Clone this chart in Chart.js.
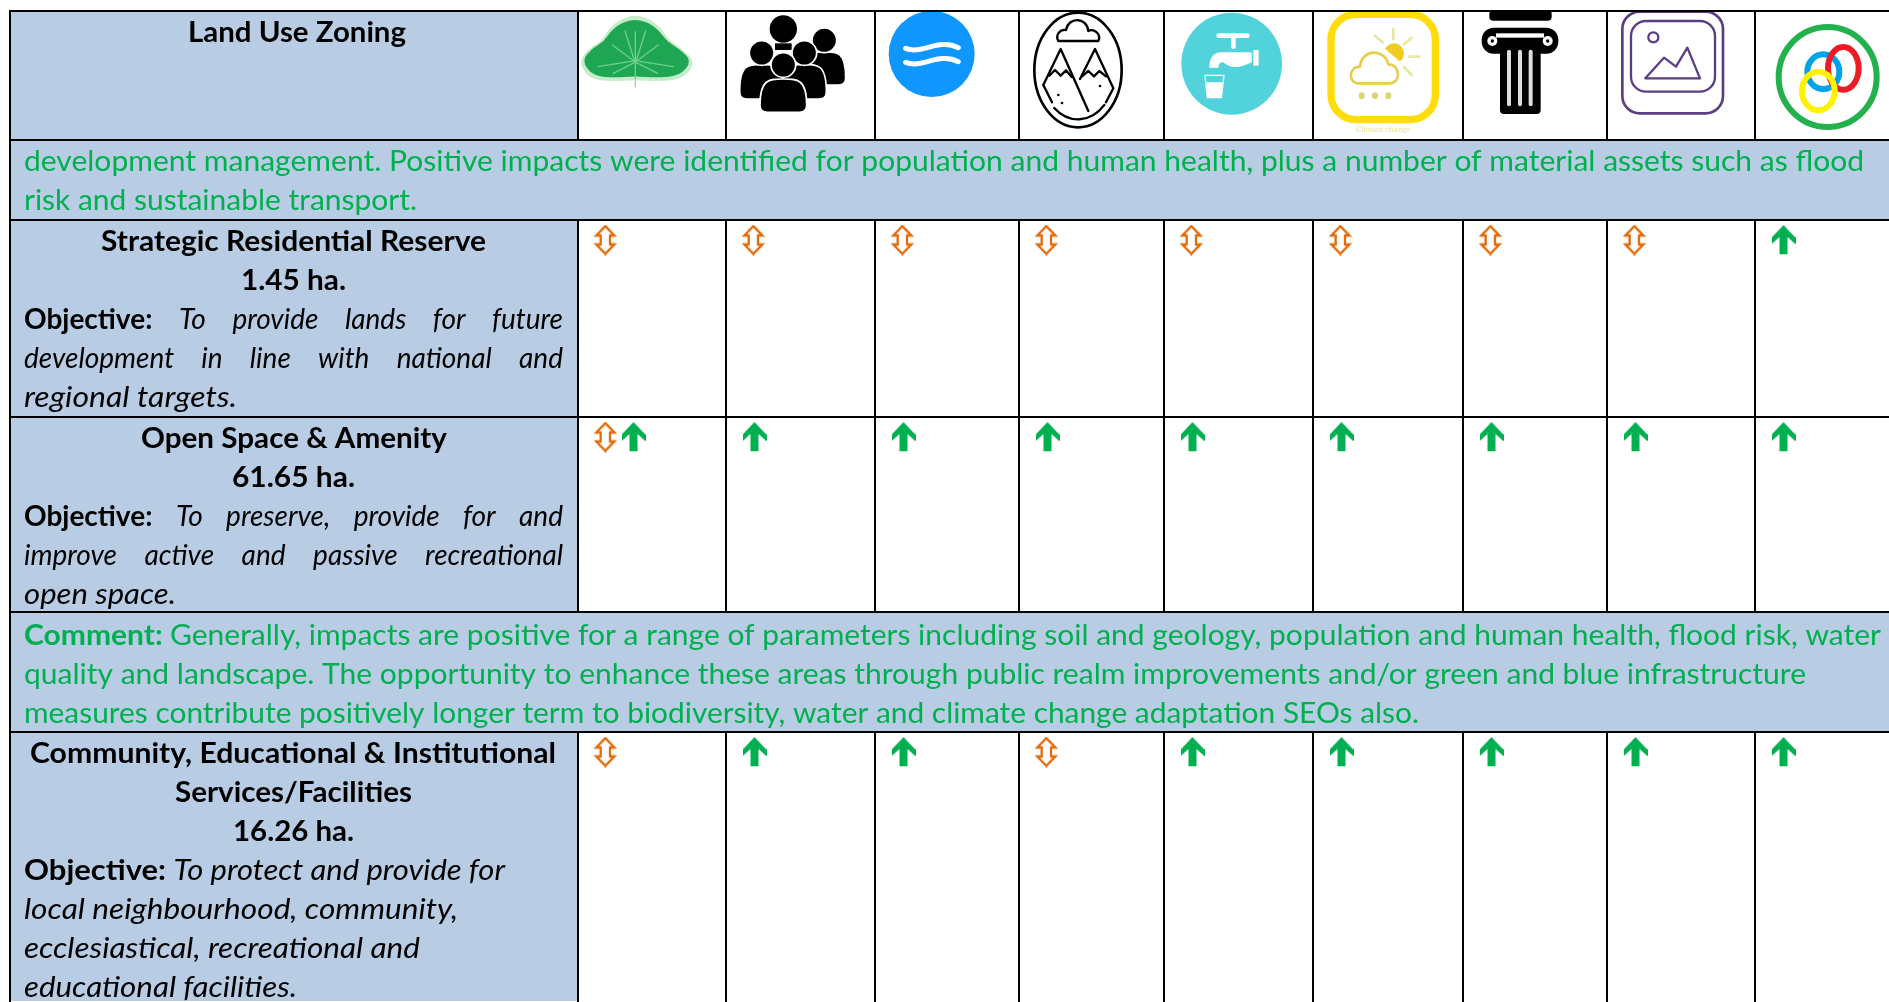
<!DOCTYPE html>
<html>
<head>
<meta charset="utf-8">
<title>Land Use Zoning</title>
<script src="https://cdn.jsdelivr.net/npm/chart.js@4"></script>
<style>
  html, body { margin: 0; padding: 0; background: #fff; }
  canvas { display: block; }
</style>
</head>
<body>
<canvas id="myChart" width="1889" height="1002"></canvas>
<script>
// categories
const parameters = ["Biodiversity", "Population & Human Health", "Water", "Soil & Geology", "Water Services",
  "Climate Change", "Cultural Heritage", "Landscape", "Interrelationships"];
const zones = ["Strategic Residential Reserve", "Open Space & Amenity", "Community, Educational & Institutional Services/Facilities"];

// series values, one rating per parameter
const residentialRatings = ["neutral", "neutral", "neutral", "neutral", "neutral", "neutral", "neutral", "neutral", "positive"];
const openSpaceRatings = ["mixed", "positive", "positive", "positive", "positive", "positive", "positive", "positive", "positive"];
const communityRatings = ["neutral", "positive", "positive", "neutral", "positive", "positive", "positive", "positive", "positive"];

// table layout, same units as the page
const columnEdges = [10, 578, 726, 875, 1019, 1164, 1313, 1463, 1607, 1755];
const rowEdges = [11, 140, 220, 417, 612, 732];
const rowBaselines = [31, 31, 31, 31, 33, 31];
const zoneRows = [2, 3, 5];
const blueRows = [0, 2, 3, 5];
const commentRows = [1, 4];

const BLUE = "#B8CCE4";
const GREEN = "#00B050";
const ORANGE = "#E36C0A";
const FONT_SIZE = 28;
const LINE_PITCH = 39;

const B = "bold", I = "italic", R = "normal";

// row, line number in the row, runs, left and right end of the line
const tableLines = [
  [0, 0, [[B, "Land Use Zoning"]], 188, 406],
  [1, 0, [[R, "development management. Positive impacts were identified for population and human health, plus a number of material assets such as flood"]], 24, 1864, GREEN],
  [1, 1, [[R, "risk and sustainable transport."]], 24, 417, GREEN],
  [2, 0, [[B, "Strategic Residential Reserve"]], 101, 486],
  [2, 1, [[B, "1.45 ha."]], 241, 346],
  [2, 2, [[B, "Objective: "], [I, "To provide lands for future"]], 24, 563, null, true],
  [2, 3, [[I, "development in line with national and"]], 24, 563, null, true],
  [2, 4, [[I, "regional targets."]], 24, 237],
  [3, 0, [[B, "Open Space & Amenity"]], 141, 447],
  [3, 1, [[B, "61.65 ha."]], 232, 355],
  [3, 2, [[B, "Objective: "], [I, "To preserve, provide for and"]], 24, 563, null, true],
  [3, 3, [[I, "improve active and passive recreational"]], 24, 563, null, true],
  [3, 4, [[I, "open space."]], 24, 176],
  [4, 0, [[B, "Comment: "], [R, "Generally, impacts are positive for a range of parameters including soil and geology, population and human health, flood risk, water"]], 24, 1881, GREEN],
  [4, 1, [[R, "quality and landscape. The opportunity to enhance these areas through public realm improvements and/or green and blue infrastructure"]], 24, 1806, GREEN],
  [4, 2, [[R, "measures contribute positively longer term to biodiversity, water and climate change adaptation SEOs also."]], 24, 1419, GREEN],
  [5, 0, [[B, "Community, Educational & Institutional"]], 30, 556],
  [5, 1, [[B, "Services/Facilities"]], 175, 412],
  [5, 2, [[B, "16.26 ha."]], 233, 354],
  [5, 3, [[B, "Objective: "], [I, "To protect and provide for"]], 24, 505],
  [5, 4, [[I, "local neighbourhood, community,"]], 24, 458],
  [5, 5, [[I, "ecclesiastical, recreational and"]], 24, 420],
  [5, 6, [[I, "educational facilities."]], 24, 297]
];

// arrow markers, drawn at 3x then used as point styles
const makeMarker = (w, h, draw) => {
  const c = document.createElement("canvas");
  c.width = w;
  c.height = h;
  const ctx = c.getContext("2d");
  ctx.scale(1 / 3, 1 / 3);
  draw(ctx);
  return c;
};

const poly = (ctx, pts, close = true) => {
  ctx.beginPath();
  pts.forEach((p, i) => (i ? ctx.lineTo(p[0], p[1]) : ctx.moveTo(p[0], p[1])));
  if (close) ctx.closePath();
};

const neutralArrow = makeMarker(23, 31, (ctx) => {
  ctx.strokeStyle = ORANGE;
  ctx.lineWidth = 7;
  ctx.lineJoin = "miter";
  poly(ctx, [[34, 5], [61, 33], [48, 33], [48, 60], [61, 60], [34, 88], [7, 60], [20, 60], [20, 33], [7, 33]]);
  ctx.stroke();
});

const positiveArrow = makeMarker(24, 30, (ctx) => {
  ctx.fillStyle = GREEN;
  poly(ctx, [[36, 0], [72, 38], [72, 58], [48, 36], [48, 88], [24, 88], [24, 36], [0, 58], [0, 38]]);
  ctx.fill();
});

// header icons, one canvas per cell. The coordinates are 3x, from the cell's crop corner
const makeIcon = (col, cropX, cropY, draw) => {
  const left = columnEdges[col + 1];
  const right = columnEdges[col + 2] || 1889;
  const c = document.createElement("canvas");
  c.width = right - left - 2;
  c.height = rowEdges[1] - rowEdges[0] - 2;
  const ctx = c.getContext("2d");
  ctx.scale(1 / 3, 1 / 3);
  ctx.translate(-(left + 1 - cropX) * 3, -(rowEdges[0] + 1 - cropY) * 3);
  ctx.lineCap = "round";
  ctx.lineJoin = "round";
  draw(ctx);
  return c;
};

const smooth = (ctx, pts) => {
  ctx.beginPath();
  const n = pts.length;
  const mid = (a, b) => [(a[0] + b[0]) / 2, (a[1] + b[1]) / 2];
  const start = mid(pts[n - 1], pts[0]);
  ctx.moveTo(start[0], start[1]);
  pts.forEach((p, i) => {
    const m = mid(p, pts[(i + 1) % n]);
    ctx.quadraticCurveTo(p[0], p[1], m[0], m[1]);
  });
  ctx.closePath();
};

const line = (ctx, x1, y1, x2, y2) => {
  ctx.beginPath();
  ctx.moveTo(x1, y1);
  ctx.lineTo(x2, y2);
  ctx.stroke();
};

const oval = (ctx, cx, cy, rx, ry) => {
  ctx.beginPath();
  ctx.ellipse(cx, cy, rx, ry, 0, 0, Math.PI * 2);
};

const treeIcon = makeIcon(0, 575, 5, (ctx) => {
  const crown = [[180, 224], [110, 230], [45, 222], [10, 172], [42, 130], [80, 108], [102, 70], [140, 40], [180, 30], [222, 40], [258, 70], [284, 108], [320, 130], [362, 172], [324, 222], [250, 230]];
  ctx.strokeStyle = "#9ecfa6";
  ctx.lineWidth = 4;
  line(ctx, 181, 215, 181, 245);
  smooth(ctx, crown);
  ctx.fillStyle = "#c4ecca";
  ctx.fill();
  smooth(ctx, crown.map((p) => [180 + (p[0] - 180) * 0.94, 135 + (p[1] - 135) * 0.88]));
  ctx.fillStyle = "#1fa653";
  ctx.fill();
  ctx.strokeStyle = "#6fcf8e";
  ctx.lineWidth = 4;
  line(ctx, 181, 222, 181, 80);
  [[112, 120], [250, 120], [70, 185], [295, 185], [150, 78], [212, 78], [115, 205], [248, 205]].forEach((p) => line(ctx, 181, 178 - Math.abs(p[0] - 181) * 0.1, p[0], p[1]));
});

const body = (ctx, cx, top, halfW, bottom) => {
  ctx.beginPath();
  ctx.moveTo(cx - halfW, bottom - 22);
  ctx.bezierCurveTo(cx - halfW, top, cx - halfW * 0.6, top, cx, top);
  ctx.bezierCurveTo(cx + halfW * 0.6, top, cx + halfW, top, cx + halfW, bottom - 22);
  ctx.quadraticCurveTo(cx + halfW, bottom, cx + halfW - 22, bottom);
  ctx.lineTo(cx - halfW + 22, bottom);
  ctx.quadraticCurveTo(cx - halfW, bottom, cx - halfW, bottom - 22);
  ctx.closePath();
};

const peopleIcon = makeIcon(1, 575, 5, (ctx) => {
  ctx.fillStyle = "#000";
  ctx.strokeStyle = "#fff";
  ctx.lineWidth = 5;
  const person = (hx, hy, r, bw, bt, bb) => {
    body(ctx, hx, bt, bw, bb);
    ctx.fill();
    ctx.stroke();
    oval(ctx, hx, hy, r, r);
    ctx.fill();
    ctx.stroke();
  };
  oval(ctx, 625, 72, 41, 41);
  ctx.fill();
  ctx.fillRect(600, 115, 50, 20);
  person(748, 106, 37, 64, 140, 240);
  person(560, 144, 37, 66, 178, 282);
  person(688, 144, 37, 66, 178, 282);
  person(625, 180, 37, 70, 222, 322);
});

const waterIcon = makeIcon(2, 575, 5, (ctx) => {
  ctx.fillStyle = "#0F96FF";
  oval(ctx, 1070, 147, 129, 129);
  ctx.fill();
  ctx.strokeStyle = "#fff";
  ctx.lineWidth = 15;
  [130, 172].forEach((y) => {
    ctx.beginPath();
    ctx.moveTo(992, y);
    ctx.bezierCurveTo(1040, y + 20, 1090, y - 32, 1150, y - 2);
    ctx.stroke();
  });
});

const mountainIcon = makeIcon(3, 1020, 5, (ctx) => {
  ctx.strokeStyle = "#000";
  ctx.lineWidth = 8;
  oval(ctx, 174, 195, 131, 172);
  ctx.stroke();
  ctx.lineWidth = 7;
  ctx.beginPath();
  ctx.moveTo(115, 108);
  ctx.lineTo(235, 108);
  ctx.bezierCurveTo(245, 85, 220, 70, 205, 78);
  ctx.bezierCurveTo(200, 35, 145, 35, 138, 75);
  ctx.bezierCurveTo(120, 72, 105, 90, 115, 108);
  ctx.stroke();
  poly(ctx, [[70, 240], [122, 132], [205, 318]], false);
  ctx.stroke();
  poly(ctx, [[180, 222], [225, 132], [280, 250], [258, 292]], false);
  ctx.stroke();
  poly(ctx, [[70, 240], [96, 292]], false);
  ctx.stroke();
  poly(ctx, [[88, 212], [105, 195], [122, 212], [138, 196], [155, 216]], false);
  ctx.stroke();
  poly(ctx, [[186, 214], [205, 198], [222, 214], [238, 198], [258, 214]], false);
  ctx.stroke();
  [[115, 270], [126, 294], [240, 243]].forEach((p) => {
    oval(ctx, p[0], p[1], 4, 4);
    ctx.fillStyle = "#000";
    ctx.fill();
  });
  ctx.beginPath();
  ctx.ellipse(174, 195, 112, 148, 0, Math.PI * 0.25, Math.PI * 0.72);
  ctx.stroke();
});

const tapIcon = makeIcon(4, 1020, 5, (ctx) => {
  ctx.fillStyle = "#52D3DC";
  oval(ctx, 635, 176, 151, 153);
  ctx.fill();
  ctx.strokeStyle = "#fff";
  ctx.fillStyle = "#fff";
  ctx.lineWidth = 14;
  line(ctx, 596, 92, 682, 92);
  line(ctx, 640, 95, 640, 125);
  ctx.fillRect(700, 135, 16, 47);
  ctx.beginPath();
  ctx.moveTo(695, 142);
  ctx.lineTo(600, 142);
  ctx.quadraticCurveTo(568, 146, 568, 188);
  ctx.lineTo(595, 188);
  ctx.quadraticCurveTo(596, 170, 610, 172);
  ctx.quadraticCurveTo(640, 200, 695, 172);
  ctx.closePath();
  ctx.fill();
  ctx.lineWidth = 4;
  poly(ctx, [[555, 211], [612, 211], [604, 278], [562, 278]]);
  ctx.stroke();
  poly(ctx, [[560, 232], [608, 232], [603, 277], [563, 277]]);
  ctx.fill();
});

const climateIcon = makeIcon(5, 1020, 5, (ctx) => {
  ctx.strokeStyle = "#FFDC0A";
  ctx.lineWidth = 22;
  ctx.beginPath();
  ctx.roundRect(933, 28, 313, 316, 75);
  ctx.stroke();
  ctx.strokeStyle = "#E7E6A5";
  ctx.lineWidth = 8;
  [[1065, 92, 1088, 112], [1120, 72, 1120, 102], [1175, 98, 1152, 118], [1198, 155, 1168, 155], [1175, 210, 1152, 186]].forEach((r) => line(ctx, r[0], r[1], r[2], r[3]));
  ctx.fillStyle = "#F2CB22";
  ctx.beginPath();
  ctx.arc(1122, 145, 30, -Math.PI * 0.85, Math.PI * 0.3);
  ctx.closePath();
  ctx.fill();
  ctx.strokeStyle = "#E6CF4F";
  ctx.lineWidth = 8;
  ctx.beginPath();
  ctx.moveTo(1012, 235);
  ctx.bezierCurveTo(985, 232, 985, 185, 1020, 185);
  ctx.bezierCurveTo(1025, 130, 1095, 130, 1105, 178);
  ctx.bezierCurveTo(1140, 178, 1145, 232, 1110, 235);
  ctx.closePath();
  ctx.stroke();
  ctx.fillStyle = "#D9D678";
  [1025, 1065, 1105].forEach((x) => {
    oval(ctx, x, 272, 9, 10);
    ctx.fill();
  });
  ctx.fillStyle = "#EDE9AE";
  ctx.font = "bold 24px Lato";
  ctx.textAlign = "center";
  ctx.fillText("Climate change", 1090, 380);
});

const columnIcon = makeIcon(6, 1460, 5, (ctx) => {
  ctx.fillStyle = "#000";
  ctx.beginPath();
  ctx.roundRect(88, 15, 187, 32, 12);
  ctx.fill();
  ctx.beginPath();
  ctx.roundRect(65, 68, 230, 78, 36);
  ctx.fill();
  ctx.beginPath();
  ctx.roundRect(120, 100, 122, 227, 12);
  ctx.fill();
  ctx.fillStyle = "#fff";
  ctx.fillRect(108, 85, 144, 13);
  oval(ctx, 97, 108, 15, 15);
  ctx.fill();
  oval(ctx, 263, 108, 15, 15);
  ctx.fill();
  ctx.fillStyle = "#000";
  oval(ctx, 97, 108, 5, 5);
  ctx.fill();
  oval(ctx, 263, 108, 5, 5);
  ctx.fill();
  ctx.strokeStyle = "#ddd";
  ctx.lineWidth = 12;
  [147, 180, 212].forEach((x) => line(ctx, x, 140, x, 298));
});

const landscapeIcon = makeIcon(7, 1460, 5, (ctx) => {
  ctx.strokeStyle = "#5B3F82";
  ctx.lineWidth = 8;
  ctx.beginPath();
  ctx.roundRect(487, 20, 302, 305, 52);
  ctx.stroke();
  ctx.lineWidth = 7;
  ctx.beginPath();
  ctx.roundRect(513, 48, 252, 212, 45);
  ctx.stroke();
  oval(ctx, 580, 97, 15, 15);
  ctx.stroke();
  poly(ctx, [[556, 220], [612, 158], [648, 185], [682, 128], [720, 220]]);
  ctx.stroke();
});

const ringsIcon = makeIcon(8, 1460, 5, (ctx) => {
  ctx.lineWidth = 18;
  ctx.strokeStyle = "#22B14C";
  oval(ctx, 1103, 216, 147, 150);
  ctx.stroke();
  ctx.strokeStyle = "#00A2E8";
  oval(ctx, 1090, 200, 48, 52);
  ctx.stroke();
  ctx.strokeStyle = "#ED1C24";
  oval(ctx, 1150, 190, 46, 64);
  ctx.stroke();
  ctx.strokeStyle = "#FFF200";
  oval(ctx, 1075, 258, 49, 58);
  ctx.stroke();
});

const headerIcons = [treeIcon, peopleIcon, waterIcon, mountainIcon, tapIcon, climateIcon, columnIcon, landscapeIcon, ringsIcon];

// where a marker sits inside its cell
const MARK_DX = 27.5;
const MARK_DY = 20;
const SECOND_MARK_DX = 28;

const ratingsByZone = [residentialRatings, openSpaceRatings, communityRatings];

const neutralPoints = [];
const positivePoints = [];
ratingsByZone.forEach((ratings, z) => {
  ratings.forEach((rating, p) => {
    const x = columnEdges[p + 1] + MARK_DX;
    const y = rowEdges[zoneRows[z]] + MARK_DY;
    if (rating === "neutral") neutralPoints.push({ x, y });
    if (rating === "positive") positivePoints.push({ x: x + 1, y });
    if (rating === "mixed") {
      neutralPoints.push({ x, y });
      positivePoints.push({ x: x + SECOND_MARK_DX, y });
    }
  });
});

const iconPoints = parameters.map((name, p) => {
  const left = columnEdges[p + 1];
  const right = columnEdges[p + 2] || 1889;
  return { x: (left + right) / 2, y: (rowEdges[0] + rowEdges[1]) / 2 };
});

const fontOf = (style) => {
  if (style === B) return `700 ${FONT_SIZE}px Lato`;
  if (style === I) return `italic 400 ${FONT_SIZE}px Lato`;
  return `400 ${FONT_SIZE}px Lato`;
};

const drawTableLine = (ctx, chart, [row, lineNo, runs, x0, x1, color, justify]) => {
  const xs = chart.scales.x;
  const ys = chart.scales.y;
  const y = ys.getPixelForValue(rowEdges[row]) + rowBaselines[row] + lineNo * LINE_PITCH;
  const left = xs.getPixelForValue(x0);
  const target = xs.getPixelForValue(x1) - left;

  ctx.wordSpacing = "0px";
  let natural = 0;
  let spaces = 0;
  runs.forEach(([style, text]) => {
    ctx.font = fontOf(style);
    natural += ctx.measureText(text).width;
    spaces += text.split(" ").length - 1;
  });

  let stretch = target / natural;
  if (justify) {
    stretch = Math.min(stretch, 1);
    ctx.wordSpacing = `${Math.max(0, (target / stretch - natural) / spaces)}px`;
  }

  ctx.save();
  ctx.translate(left, y);
  ctx.scale(stretch, 1);
  ctx.fillStyle = color || "#000";
  ctx.textBaseline = "alphabetic";
  ctx.textAlign = "left";
  let cursor = 0;
  runs.forEach(([style, text]) => {
    ctx.font = fontOf(style);
    ctx.fillText(text, cursor, 0);
    cursor += ctx.measureText(text).width;
  });
  ctx.restore();
  ctx.wordSpacing = "0px";
};

// the coloured cells go over the grid, text on top of them
const tablePlugin = {
  id: "tablePlugin",
  beforeDatasetsDraw(chart) {
    const { ctx, scales: { x, y } } = chart;
    const rowTop = (r) => y.getPixelForValue(rowEdges[r]);
    const rowBottom = (r) => (r + 1 < rowEdges.length ? y.getPixelForValue(rowEdges[r + 1]) : chart.height);
    ctx.save();
    ctx.fillStyle = BLUE;
    blueRows.forEach((r) => {
      const left = x.getPixelForValue(columnEdges[0]) + 1;
      ctx.fillRect(left, rowTop(r) + 1, x.getPixelForValue(columnEdges[1]) - 1 - left, rowBottom(r) - rowTop(r) - 2);
    });
    commentRows.forEach((r) => {
      const left = x.getPixelForValue(columnEdges[0]) + 1;
      ctx.fillRect(left, rowTop(r) + 1, chart.width - left, rowBottom(r) - rowTop(r) - 2);
    });
    tableLines.forEach((l) => drawTableLine(ctx, chart, l));
    ctx.restore();
  },
};

const edgeTicks = (edges) => (axis) => {
  axis.ticks = edges.map((value) => ({ value }));
};

new Chart(document.getElementById("myChart"), {
  type: "scatter",
  data: {
    datasets: [
      { label: "Neutral", data: neutralPoints, pointStyle: neutralArrow, pointRadius: 10 },
      { label: "Positive", data: positivePoints, pointStyle: positiveArrow, pointRadius: 10 },
      { label: "Parameters", data: iconPoints, pointStyle: headerIcons, pointRadius: 10 },
    ],
  },
  options: {
    responsive: false,
    animation: false,
    events: [],
    layout: { autoPadding: false, padding: { left: 9, top: 10 } },
    plugins: { legend: { display: false }, tooltip: { enabled: false } },
    scales: {
      x: {
        type: "linear",
        min: 9,
        max: 1889,
        afterBuildTicks: edgeTicks(columnEdges),
        ticks: { display: false, autoSkip: false },
        grid: { color: "#000", lineWidth: 2, drawTicks: false },
        border: { display: false },
      },
      y: {
        type: "linear",
        reverse: true,
        min: 10,
        max: 1002,
        afterBuildTicks: edgeTicks(rowEdges),
        ticks: { display: false, autoSkip: false },
        grid: { color: "#000", lineWidth: 2, drawTicks: false },
        border: { display: false },
      },
    },
  },
  plugins: [tablePlugin],
});
</script>
</body>
</html>
